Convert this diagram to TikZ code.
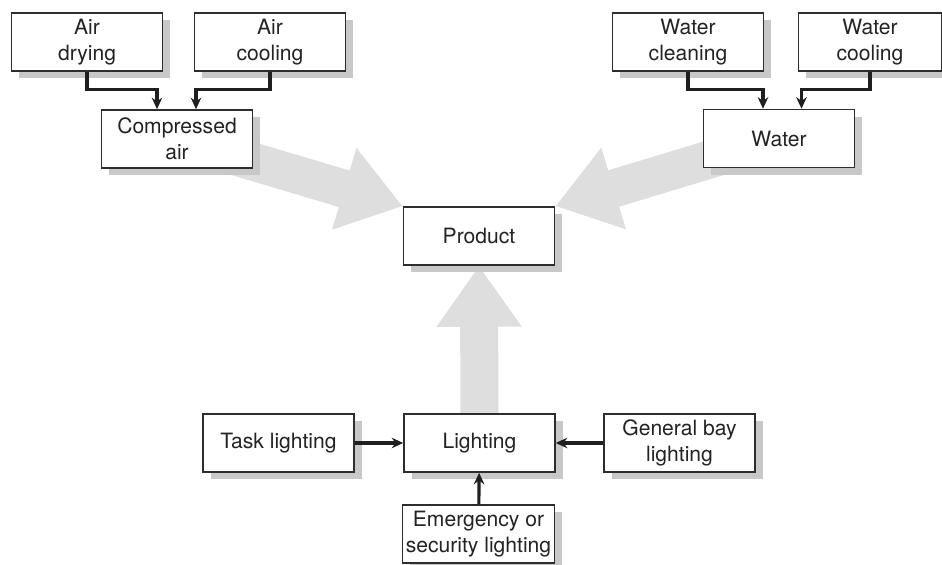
\documentclass[tikz,border=0pt]{standalone}
\usepackage{fontspec}
\setmainfont{TeX Gyre Heros}
\definecolor{boxline}{RGB}{45, 45, 45}
\definecolor{boxtext}{RGB}{35, 35, 35}
\definecolor{flowgray}{RGB}{222, 222, 222}
\definecolor{shadowgray}{RGB}{200, 200, 200}
\usepackage{tikz}
\usetikzlibrary{arrows.meta, positioning, calc, shadows, backgrounds}
\tikzset{
    flowbox/.style={rectangle, draw=boxline, line width=0.9pt, fill=white, text=boxtext,
                    minimum width=3.02cm, minimum height=1.16cm, inner sep=2pt, align=center,
                    font=\fontsize{12}{14.8}\selectfont,
                    drop shadow={shadow xshift=0.15cm, shadow yshift=-0.15cm, fill=shadowgray, opacity=1}},
    flowarrow/.style={-{Stealth[length=2.3mm, width=2.1mm]}, line width=1.8pt, black!88},
    bigarrow/.style={-{Triangle[length=1.22cm, width=1.62cm]}, line width=0.76cm, flowgray},
}

\begin{document}
\begin{tikzpicture}
            \useasboundingbox (0, 0) rectangle (18.84, 11.3);

            \node[flowbox] (adry) at (1.74, 10.46) {Air\\drying};
            \node[flowbox] (acool) at (5.40, 10.46) {Air\\cooling};
            \node[flowbox] (cair) at (3.54, 8.52) {Compressed\\air};
            \node[flowbox] (wclean) at (13.76, 10.46) {Water\\cleaning};
            \node[flowbox, minimum width=2.86cm] (wcool) at (17.40, 10.46) {Water\\cooling};
            \node[flowbox] (water) at (15.58, 8.53) {Water};
            \node[flowbox] (prod) at (9.58, 6.58) {Product};
            \node[flowbox] (task) at (5.57, 2.44) {Task lighting};
            \node[flowbox] (light) at (9.59, 2.44) {Lighting};
            \node[flowbox] (genbay) at (13.59, 2.44) {General bay\\lighting};
            \node[flowbox] (emerg) at (9.57, 0.62) {Emergency or\\security lighting};

            % wide grey flows into the product
            \begin{scope}[on background layer]
                \draw[bigarrow] (cair.center) -- (prod.north west);
                \draw[bigarrow] (water.center) -- (prod.north east);
                \draw[bigarrow] (light.center) -- (prod.south);
            \end{scope}

            \draw[flowarrow] (adry.south) -- ++(0, -0.36) -| ($(cair.north)+(-0.40, 0)$);
            \draw[flowarrow] (acool.south) -- ++(0, -0.36) -| ($(cair.north)+(0.38, 0)$);
            \draw[flowarrow] (wclean.south) -- ++(0, -0.36) -| ($(water.north)+(-0.32, 0)$);
            \draw[flowarrow] (wcool.south) -- ++(0, -0.36) -| ($(water.north)+(0.45, 0)$);

            \draw[flowarrow] (task) -- (light);
            \draw[flowarrow] (genbay) -- (light);
            \draw[flowarrow] (emerg) -- (light);
        \end{tikzpicture}
\end{document}
